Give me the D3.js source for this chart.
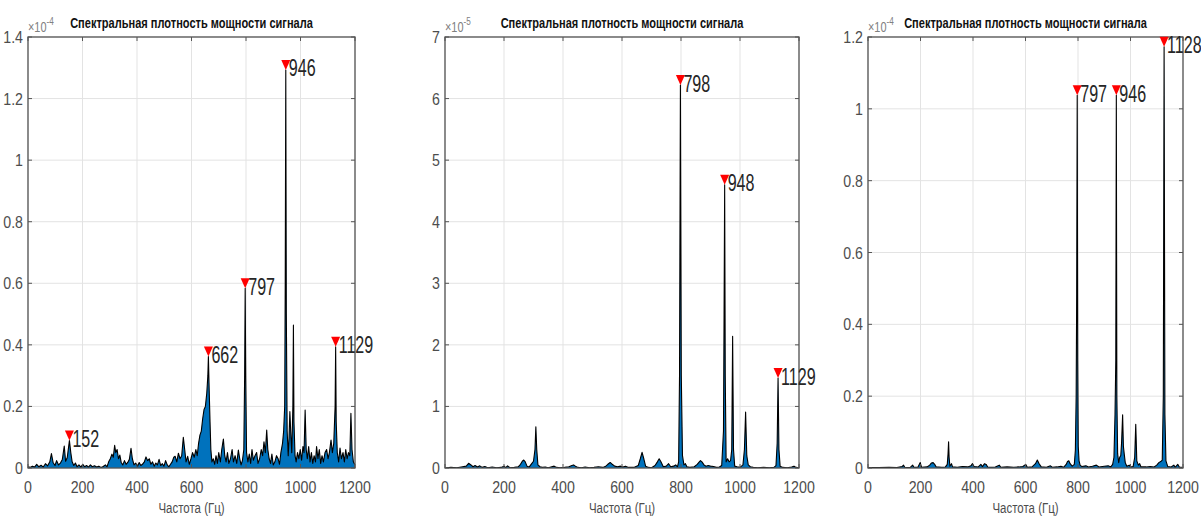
<!DOCTYPE html>
<html><head><meta charset="utf-8">
<script src="https://cdn.jsdelivr.net/npm/d3@7/dist/d3.min.js"></script>
<style>body{margin:0;background:#fff}svg{display:block}</style>
</head><body>
<svg id="c" width="1201" height="521"></svg>
<script>
const chartTitle = "Спектральная плотность мощности сигнала";
const xLabel = "Частота (Гц)";
const xTicks = [0, 200, 400, 600, 800, 1000, 1200];

// Panel 1 (×10^-4)
const freq1 = [0,8,16,24,32,40,48,56,64,72,80,86,92,99,105,112,119,126,133,138,144,152,157,162,168,174,180,187,194,201,208,215,222,229,236,244,252,260,268,276,284,290,296,302,308,313,318,322,327,332,337,342,348,354,360,366,372,378,383,389,395,402,408,414,420,427,433,439,445,451,457,463,469,475,481,487,493,499,505,511,517,523,529,535,540,546,552,558,564,570,575,580,586,592,598,604,610,616,621,626,631,636,641,646,651,656,660,662,665,668,671,675,680,685,690,695,700,706,711,717,722,727,732,737,743,749,754,760,766,772,777,782,787,792,795,797,799,802,807,812,817,822,827,833,839,844,850,856,861,866,871,876,880,885,890,895,900,906,912,918,923,928,934,938,942,944,946,948,951,955,958,961,965,968,972,974,976,980,984,989,994,999,1004,1009,1013,1017,1021,1025,1030,1035,1040,1045,1050,1055,1059,1064,1069,1074,1079,1084,1090,1096,1101,1106,1112,1117,1122,1127,1129,1131,1135,1140,1145,1150,1156,1161,1166,1171,1176,1181,1185,1189,1194,1200];
const psd1 = [0.004,0.002,0.006,0.003,0.012,0.004,0.009,0.003,0.014,0.007,0.02,0.047,0.018,0.008,0.024,0.01,0.016,0.028,0.071,0.022,0.034,0.089,0.05,0.02,0.008,0.016,0.004,0.01,0.003,0.012,0.004,0.008,0.003,0.01,0.004,0.007,0.003,0.006,0.002,0.005,0.01,0.004,0.02,0.03,0.045,0.035,0.074,0.05,0.06,0.03,0.042,0.018,0.01,0.024,0.012,0.018,0.028,0.064,0.03,0.01,0.016,0.006,0.018,0.008,0.012,0.02,0.036,0.024,0.03,0.012,0.02,0.006,0.016,0.01,0.028,0.008,0.014,0.006,0.024,0.01,0.004,0.012,0.02,0.035,0.038,0.02,0.048,0.03,0.04,0.1,0.06,0.02,0.038,0.012,0.03,0.05,0.035,0.06,0.04,0.08,0.107,0.12,0.16,0.19,0.2,0.243,0.3,0.362,0.25,0.15,0.06,0.02,0.03,0.012,0.04,0.015,0.05,0.02,0.06,0.094,0.04,0.02,0.05,0.015,0.03,0.06,0.02,0.04,0.015,0.058,0.03,0.01,0.025,0.06,0.3,0.584,0.3,0.05,0.02,0.045,0.015,0.06,0.025,0.04,0.05,0.015,0.03,0.06,0.04,0.085,0.05,0.123,0.06,0.03,0.015,0.045,0.01,0.02,0.04,0.03,0.012,0.05,0.08,0.118,0.2,0.6,1.293,0.5,0.12,0.04,0.1,0.183,0.1,0.05,0.2,0.464,0.15,0.04,0.02,0.05,0.03,0.06,0.025,0.07,0.05,0.188,0.06,0.03,0.07,0.02,0.05,0.015,0.04,0.02,0.07,0.03,0.06,0.015,0.04,0.02,0.05,0.06,0.03,0.05,0.091,0.05,0.08,0.2,0.394,0.15,0.05,0.02,0.065,0.03,0.05,0.02,0.06,0.03,0.05,0.04,0.178,0.06,0.02,0.01];
const peakF1 = [152, 662, 797, 946, 1129];
const peakV1 = [0.089, 0.362, 0.584, 1.293, 0.394];
const yTicks1 = [0, 0.2, 0.4, 0.6, 0.8, 1, 1.2, 1.4];
const yMax1 = 1.4;
const exp1 = "-4";

// Panel 2 (×10^-5)
const freq2 = [0,20,40,60,72,80,88,95,102,110,118,126,135,145,160,175,190,200,206,212,220,235,248,256,262,267,272,278,285,292,300,305,308,311,315,322,330,340,350,362,370,378,390,405,420,430,436,442,450,462,475,490,505,520,535,545,552,560,567,575,585,595,603,612,622,640,655,662,668,674,680,690,700,712,720,726,732,740,750,758,765,775,782,788,792,795,798,801,805,810,815,820,830,845,855,862,866,871,878,885,892,900,910,920,930,938,944,946,948,950,953,958,963,968,972,975,978,982,990,1000,1010,1015,1019,1023,1028,1035,1045,1060,1080,1100,1115,1122,1126,1129,1132,1136,1145,1160,1175,1183,1190,1200];
const psd2 = [0,0.01,0.005,0.02,0.03,0.076,0.05,0.02,0.04,0.015,0.035,0.01,0.025,0.005,0.015,0.005,0.01,0.03,0.005,0.035,0.005,0.01,0.02,0.06,0.11,0.13,0.1,0.03,0.015,0.06,0.11,0.3,0.67,0.3,0.05,0.02,0.01,0.015,0.005,0.02,0.03,0.01,0.005,0.01,0.02,0.04,0.05,0.03,0.01,0.005,0.015,0.005,0.01,0.02,0.01,0.03,0.06,0.09,0.06,0.03,0.02,0.03,0.015,0.03,0.01,0.01,0.04,0.15,0.255,0.15,0.03,0.01,0.005,0.04,0.1,0.15,0.1,0.02,0.03,0.07,0.02,0.03,0.05,0.02,0.1,1.5,6.22,1.5,0.2,0.05,0.07,0.02,0.01,0.02,0.06,0.1,0.12,0.1,0.05,0.03,0.04,0.03,0.025,0.01,0.015,0.04,0.6,2.5,4.6,1.5,0.1,0.15,0.1,0.12,0.3,2.14,0.3,0.03,0.02,0.01,0.05,0.3,0.91,0.2,0.05,0.02,0.01,0.005,0.01,0.005,0.01,0.04,0.4,1.46,0.3,0.03,0.01,0.005,0.015,0.03,0.01,0.005];
const peakF2 = [798, 948, 1129];
const peakV2 = [6.22, 4.6, 1.46];
const yTicks2 = [0, 1, 2, 3, 4, 5, 6, 7];
const yMax2 = 7;
const exp2 = "-5";

// Panel 3 (×10^-4)
const freq3 = [0,40,80,110,130,135,140,160,170,175,190,199,204,225,235,242,248,254,260,280,295,302,305,307,309,312,318,322,340,360,380,392,398,404,420,430,436,444,450,456,470,485,500,506,530,555,575,590,601,607,625,638,645,652,660,680,695,702,720,735,745,755,760,765,770,778,786,790,793,795,797,799,801,804,808,815,830,840,855,870,880,900,915,925,932,937,941,944,946,948,951,955,959,963,966,970,973,976,980,986,995,1000,1010,1016,1020,1024,1030,1035,1040,1060,1075,1090,1100,1108,1115,1121,1125,1128,1131,1135,1142,1155,1165,1170,1180,1186,1200];
const psd3 = [0.001,0.001,0.002,0.001,0.004,0.008,0.002,0.001,0.008,0.002,0.002,0.015,0.002,0.003,0.008,0.014,0.015,0.01,0.003,0.002,0.003,0.01,0.04,0.073,0.03,0.005,0.012,0.003,0.002,0.004,0.003,0.006,0.012,0.004,0.003,0.01,0.004,0.012,0.01,0.003,0.002,0.003,0.008,0.002,0.003,0.002,0.003,0.004,0.01,0.002,0.003,0.012,0.022,0.012,0.003,0.002,0.006,0.002,0.003,0.005,0.002,0.01,0.018,0.02,0.012,0.005,0.01,0.05,0.2,0.487,1.038,0.3,0.06,0.02,0.008,0.004,0.006,0.003,0.005,0.008,0.003,0.005,0.006,0.003,0.01,0.03,0.148,0.3,1.038,0.2,0.04,0.015,0.03,0.035,0.07,0.148,0.06,0.04,0.015,0.005,0.008,0.003,0.004,0.03,0.122,0.02,0.008,0.012,0.003,0.003,0.004,0.003,0.008,0.015,0.018,0.022,0.2,1.173,0.15,0.02,0.004,0.003,0.008,0.002,0.01,0.003,0.001];
const peakF3 = [797, 946, 1128];
const peakV3 = [1.038, 1.038, 1.173];
const yTicks3 = [0, 0.2, 0.4, 0.6, 0.8, 1, 1.2];
const yMax3 = 1.2;
const exp3 = "-4";

const panels = [
  {f: freq1, v: psd1, pf: peakF1, pv: peakV1, yt: yTicks1, ymax: yMax1, exp: exp1, l: 28,  r: 355,  t: 37, b: 468},
  {f: freq2, v: psd2, pf: peakF2, pv: peakV2, yt: yTicks2, ymax: yMax2, exp: exp2, l: 445, r: 799,  t: 37, b: 468},
  {f: freq3, v: psd3, pf: peakF3, pv: peakV3, yt: yTicks3, ymax: yMax3, exp: exp3, l: 868, r: 1183, t: 37, b: 468}
];

const svg = d3.select("#c");
const FONT = '"Liberation Sans",Arial,sans-serif';
const axisCol = "#555555", labCol = "#4d4d4d", gridCol = "#e3e3e3";

// condensed text helper
function ctext(sel, x, y, txt, size, sx, anchor, fill, weight) {
  return sel.append("text")
    .attr("transform", `translate(${x},${y}) scale(${sx},1)`)
    .attr("text-anchor", anchor || "start")
    .attr("font-family", FONT).attr("font-size", size)
    .attr("font-weight", weight || "normal")
    .attr("fill", fill || labCol).text(txt);
}

panels.forEach((p, i) => {
  const x = d3.scaleLinear().domain([0, 1200]).range([p.l, p.r]);
  const y = d3.scaleLinear().domain([0, p.ymax]).range([p.b, p.t]);
  const g = svg.append("g");
  const cid = "clip" + i;
  g.append("clipPath").attr("id", cid).append("rect")
    .attr("x", p.l).attr("y", p.t).attr("width", p.r - p.l).attr("height", p.b - p.t);

  // grid
  g.selectAll(".gx").data(xTicks).enter().append("line")
    .attr("x1", d => x(d)).attr("x2", d => x(d)).attr("y1", p.t).attr("y2", p.b)
    .attr("stroke", gridCol).attr("stroke-width", 1);
  g.selectAll(".gy").data(p.yt).enter().append("line")
    .attr("y1", d => y(d)).attr("y2", d => y(d)).attr("x1", p.l).attr("x2", p.r)
    .attr("stroke", gridCol).attr("stroke-width", 1);

  const data = p.f.map((f, k) => [f, p.v[k]]);
  const area = d3.area().x(d => x(d[0])).y0(y(0)).y1(d => y(d[1]));
  const line = d3.line().x(d => x(d[0])).y(d => y(d[1]));
  const pg = g.append("g").attr("clip-path", `url(#${cid})`);
  pg.append("path").datum(data).attr("d", area).attr("fill", "#0072BD");
  pg.append("path").datum(data).attr("d", line).attr("fill", "none")
    .attr("stroke", "#000").attr("stroke-width", 1.1).attr("stroke-linejoin", "round");

  // box
  g.append("rect").attr("x", p.l).attr("y", p.t).attr("width", p.r - p.l).attr("height", p.b - p.t)
    .attr("fill", "none").attr("stroke", axisCol).attr("stroke-width", 1.3);
  // ticks inside
  const tl = 4;
  xTicks.forEach(d => {
    g.append("line").attr("x1", x(d)).attr("x2", x(d)).attr("y1", p.b).attr("y2", p.b - tl).attr("stroke", axisCol);
    g.append("line").attr("x1", x(d)).attr("x2", x(d)).attr("y1", p.t).attr("y2", p.t + tl).attr("stroke", axisCol);
  });
  p.yt.forEach(d => {
    g.append("line").attr("y1", y(d)).attr("y2", y(d)).attr("x1", p.l).attr("x2", p.l + tl).attr("stroke", axisCol);
    g.append("line").attr("y1", y(d)).attr("y2", y(d)).attr("x1", p.r).attr("x2", p.r - tl).attr("stroke", axisCol);
  });

  // tick labels
  xTicks.forEach(d => ctext(g, x(d), p.b + 25, d, 16.5, 0.86, "middle"));
  p.yt.forEach(d => ctext(g, p.l - 5, y(d) + 6, d3.format("~g")(d), 16.5, 0.86, "end"));

  // exponent
  const ex = ctext(g, p.l, 31.5, "×10", 14, 0.78, "start", "#808080");
  ex.append("tspan").attr("dy", -7).attr("font-size", 10.5).text(p.exp);

  // title: condensed to the width seen in the reference
  const tt = ctext(g, (p.l + p.r) / 2, 27.5, chartTitle, 15.5, 1, "middle", "#111", "bold");
  const w = tt.node().getComputedTextLength();
  tt.attr("transform", `translate(${(p.l + p.r) / 2},27.5) scale(${243 / w},1)`);

  // x label
  ctext(g, (p.l + p.r) / 2, p.b + 45, xLabel, 15.5, 0.74, "middle");

  // peaks
  p.pf.forEach((f, k) => {
    const px = x(f), py = y(p.pv[k]);
    g.append("path").attr("d", `M${px - 4.5},${py - 10}L${px + 4.5},${py - 10}L${px},${py}Z`).attr("fill", "#ff0000");
    ctext(g, px + 3, py + 6.5, f, 23, 0.7, "start", "#262626");
  });
});
</script>
</body></html>
